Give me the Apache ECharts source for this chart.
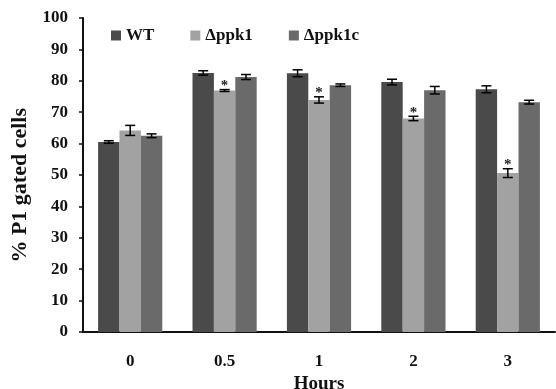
<!DOCTYPE html>
<html><head><meta charset="utf-8">
<script src="https://cdn.jsdelivr.net/npm/echarts@6/dist/echarts.min.js"></script>
<style>html,body{margin:0;padding:0;background:#fff}#c{width:556px;height:389px}</style>
</head><body><div id="c"></div>
<script>
var categories = ['0', '0.5', '1', '2', '3'];
var seriesNames = ['WT', 'Δppk1', 'Δppk1c'];
var wtValues = [60.5, 82.5, 82.4, 79.6, 77.3];
var ppk1Values = [64.2, 76.9, 73.9, 68.0, 50.6];
var ppk1cValues = [62.5, 81.2, 78.6, 77.0, 73.2];
var wtErr = [0.4, 0.7, 1.1, 0.9, 1.1];
var ppk1Err = [1.6, 0.3, 1.0, 0.7, 1.4];
var ppk1cErr = [0.6, 0.8, 0.4, 1.2, 0.6];
var ppk1Signif = [false, true, true, true, true];
var yTicks = [0, 10, 20, 30, 40, 50, 60, 70, 80, 90, 100];

var colors = ['#4a4a4a', '#a2a2a2', '#6a6a6a'];
var values = [wtValues, ppk1Values, ppk1cValues];
var errs = [wtErr, ppk1Err, ppk1cErr];
var signif = [null, ppk1Signif, null];
var font = '"Liberation Serif", "Times New Roman", serif';
var catGap = 0.32;

var series = [];
values.forEach(function (v, si) {
  series.push({
    name: seriesNames[si], type: 'bar', data: v,
    barGap: '0%', barCategoryGap: (catGap * 100) + '%',
    itemStyle: { color: colors[si] }
  });
});
values.forEach(function (v, si) {
  var data = v.map(function (val, i) { return [i, val, errs[si][i], signif[si] && signif[si][i] ? 1 : 0]; });
  series.push({
    type: 'custom', name: 'err' + si, z: 10, silent: true,
    data: data,
    renderItem: function (params, api) {
      var i = api.value(0), val = api.value(1), e = api.value(2), s = api.value(3);
      var band = api.size([1, 0])[0];
      var bw = band * (1 - catGap) / 3;
      var c = api.coord([i, val]);
      var x = c[0] + (si - 1) * bw;
      var top = api.coord([i, val + e])[1];
      var bot = api.coord([i, val - e])[1];
      var hw = 5;
      var st = { stroke: '#000', lineWidth: 1.5 };
      var children = [
        { type: 'line', shape: { x1: x, y1: top, x2: x, y2: bot }, style: st },
        { type: 'line', shape: { x1: x - hw, y1: top, x2: x + hw, y2: top }, style: st },
        { type: 'line', shape: { x1: x - hw, y1: bot, x2: x + hw, y2: bot }, style: st }
      ];
      if (s) {
        children.push({ type: 'text', style: { text: '*', x: x, y: top + 4, align: 'center', verticalAlign: 'bottom',
          font: 'bold 15px ' + font, fill: '#222' } });
      }
      return { type: 'group', children: children };
    }
  });
});

var chart = echarts.init(document.getElementById('c'));
chart.setOption({
  animation: false,
  backgroundColor: '#fff',
  grid: { left: 83, right: 1, top: 18, bottom: 57, outerBoundsMode: 'none', containLabel: false },
  legend: {
    data: seriesNames, left: 106, top: 22, itemWidth: 10, itemHeight: 10, itemGap: 36,
    icon: 'rect',
    textStyle: { fontFamily: font, fontWeight: 'bold', fontSize: 17, color: '#111' }
  },
  graphic: [{
    type: 'text', left: 9, top: 108, rotation: Math.PI / 2,
    style: { text: '% P1 gated cells', font: 'bold 22px ' + font, fill: '#111' }
  }],
  xAxis: {
    type: 'category', data: categories,
    name: 'Hours', nameLocation: 'middle', nameGap: 38,
    nameTextStyle: { fontFamily: font, fontWeight: 'bold', fontSize: 19, color: '#111' },
    axisLine: { lineStyle: { color: '#111', width: 2 } },
    axisTick: { inside: true, length: 5, lineStyle: { color: '#111', width: 1.5 } },
    axisLabel: { margin: 21, fontFamily: font, fontWeight: 'bold', fontSize: 17, color: '#111' }
  },
  yAxis: {
    type: 'value', min: 0, max: 100, interval: 10,
    axisLine: { show: true, lineStyle: { color: '#111', width: 2 } },
    axisTick: { show: true, length: 4, lineStyle: { color: '#111', width: 1.5 } },
    splitLine: { show: false },
    axisLabel: { margin: 15, fontFamily: font, fontWeight: 'bold', fontSize: 17, color: '#111',
      formatter: function (v) { return yTicks.indexOf(v) >= 0 ? String(v) : ''; } }
  },
  series: series
});
</script></body></html>
